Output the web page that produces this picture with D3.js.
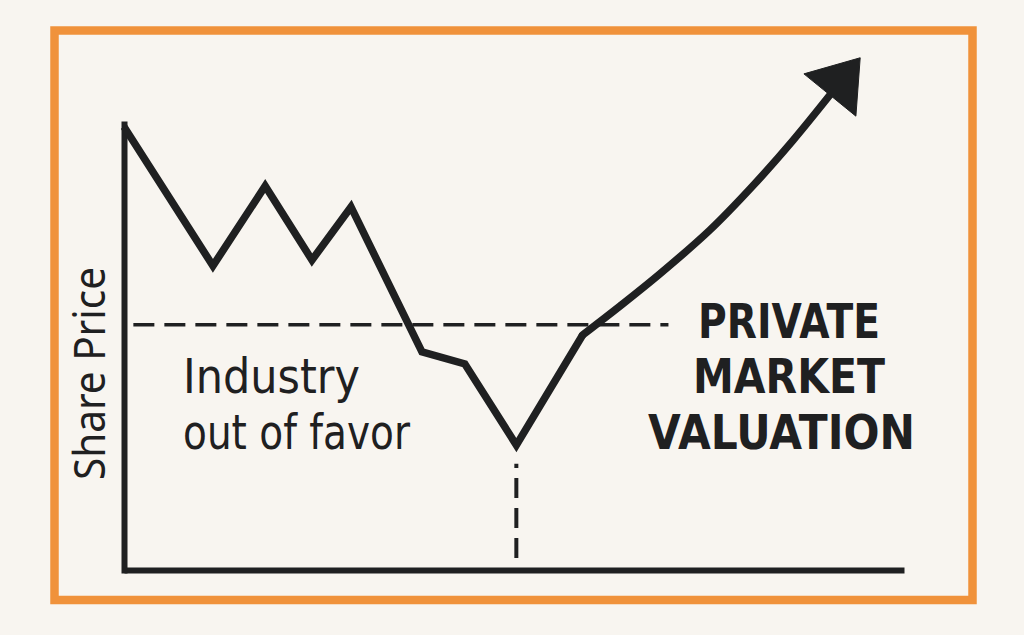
<!DOCTYPE html>
<html>
<head>
<meta charset="utf-8">
<script src="https://cdn.jsdelivr.net/npm/d3@7"></script>
<style>
  html, body { margin: 0; padding: 0; background: #f8f5f0; }
  svg { display: block; }
</style>
</head>
<body>
<script>
// ---- data (time index 0..100, share price index 0..100) ----
const declineTime  = [0, 11.4, 18.1, 24.1, 29.1, 38.2, 43.7, 50.3, 58.8];
const declinePrice = [99.4, 68.2, 86.1, 69.5, 81.4, 48.9, 46.2, 28.0, 52.7];
const recoveryTime  = [58.8, 63.6, 68.7, 75.1, 80.6, 85.8, 90.5];
const recoveryPrice = [52.7, 59.2, 66.4, 76.2, 86.1, 96.4, 106.5];
const privateMarketValue = 55;
const dashStartTime = 1.2, dashEndTime = 69.8;
const troughTime = 50.3;
const yAxisLabel = "Share Price";
const leftLabel = ["Industry", "out of favor"];
const rightLabel = ["PRIVATE", "MARKET", "VALUATION"];

const W = 1024, H = 635;
const ink = "#1f2021", orange = "#f0923b", bg = "#f8f5f0";

const svg = d3.select("body").append("svg").attr("width", W).attr("height", H);
svg.append("rect").attr("width", W).attr("height", H).attr("fill", bg);

// orange frame
svg.append("rect").attr("x", 54.5).attr("y", 30.5).attr("width", 918).attr("height", 569.5)
  .attr("fill", "none").attr("stroke", orange).attr("stroke-width", 8.5);

const x = d3.scaleLinear().domain([0, 100]).range([124, 904]);
const y = d3.scaleLinear().domain([0, 100]).range([570, 124]);

// axes (no ticks, just the domain lines)
const gx = svg.append("g").attr("transform", `translate(0,${y(0)})`)
  .call(d3.axisBottom(x).ticks(0).tickSizeOuter(0));
const gy = svg.append("g").attr("transform", `translate(${x(0)},0)`)
  .call(d3.axisLeft(y).ticks(0).tickSizeOuter(0));
gx.select(".domain").attr("stroke", ink).attr("stroke-width", 6).attr("stroke-linecap", "butt");
gy.select(".domain").attr("stroke", ink).attr("stroke-width", 6).attr("stroke-linecap", "square");
[gx, gy].forEach(g => g.selectAll("text").remove());

// dashed reference lines
svg.append("line")
  .attr("x1", x(dashStartTime)).attr("x2", x(dashEndTime))
  .attr("y1", y(privateMarketValue)).attr("y2", y(privateMarketValue))
  .attr("stroke", ink).attr("stroke-width", 3.5).attr("stroke-dasharray", "21 10");
svg.append("line")
  .attr("x1", x(troughTime)).attr("x2", x(troughTime))
  .attr("y1", y(2.7)).attr("y2", y(23.8))
  .attr("stroke", ink).attr("stroke-width", 4).attr("stroke-dasharray", "20 10");

// price line
const decline = declineTime.map((t, i) => [t, declinePrice[i]]);
const recovery = recoveryTime.map((t, i) => [t, recoveryPrice[i]]);
svg.append("path")
  .attr("d", d3.line().x(d => x(d[0])).y(d => y(d[1])).curve(d3.curveLinear)(decline))
  .attr("fill", "none").attr("stroke", ink).attr("stroke-width", 7.5)
  .attr("stroke-linejoin", "miter").attr("stroke-miterlimit", 10).attr("stroke-linecap", "butt");
svg.append("path")
  .attr("d", d3.line().x(d => x(d[0])).y(d => y(d[1])).curve(d3.curveCatmullRom)(recovery))
  .attr("fill", "none").attr("stroke", ink).attr("stroke-width", 7.5)
  .attr("stroke-linejoin", "round").attr("stroke-linecap", "round");

// arrow head built from the last two recovery points
const n = recovery.length;
const bx = x(recovery[n - 1][0]), by = y(recovery[n - 1][1]);
const px = x(recovery[n - 2][0]), py = y(recovery[n - 2][1]);
let dx = bx - px, dy = by - py; const L = Math.hypot(dx, dy); dx /= L; dy /= L;
const headLen = 48, halfBase = 33.5;
const tip = [bx + dx * headLen, by + dy * headLen];
const c1 = [bx - dy * halfBase, by + dx * halfBase];
const c2 = [bx + dy * halfBase, by - dx * halfBase];
svg.append("path").attr("d", `M${tip}L${c1}L${c2}Z`).attr("fill", ink)
  .attr("stroke", ink).attr("stroke-width", 1).attr("stroke-linejoin", "miter");

// texts
const font = "'Noto Sans', 'Open Sans', sans-serif";
const labelFont = "'DejaVu Sans', 'Noto Sans', sans-serif";
svg.append("text").text(yAxisLabel)
  .attr("transform", "translate(105,480) rotate(-90)")
  .attr("font-family", font).attr("font-size", 44).attr("fill", ink)
  .attr("textLength", 213).attr("lengthAdjust", "spacingAndGlyphs");

const leftPos = [{x: 183, y: 393, w: 177}, {x: 183, y: 449, w: 227}];
leftLabel.forEach((s, i) => {
  svg.append("text").text(s).attr("x", leftPos[i].x).attr("y", leftPos[i].y)
    .attr("font-family", labelFont).attr("font-size", 48).attr("font-weight", 400).attr("fill", ink)
    .attr("textLength", leftPos[i].w).attr("lengthAdjust", "spacingAndGlyphs");
});

const rightPos = [{x: 698, y: 338, w: 182}, {x: 693, y: 393, w: 192}, {x: 648, y: 449, w: 267}];
rightLabel.forEach((s, i) => {
  svg.append("text").text(s).attr("x", rightPos[i].x).attr("y", rightPos[i].y)
    .attr("font-family", labelFont).attr("font-size", 48).attr("font-weight", 700).attr("fill", ink)
    .attr("textLength", rightPos[i].w).attr("lengthAdjust", "spacingAndGlyphs");
});
</script>
</body>
</html>
